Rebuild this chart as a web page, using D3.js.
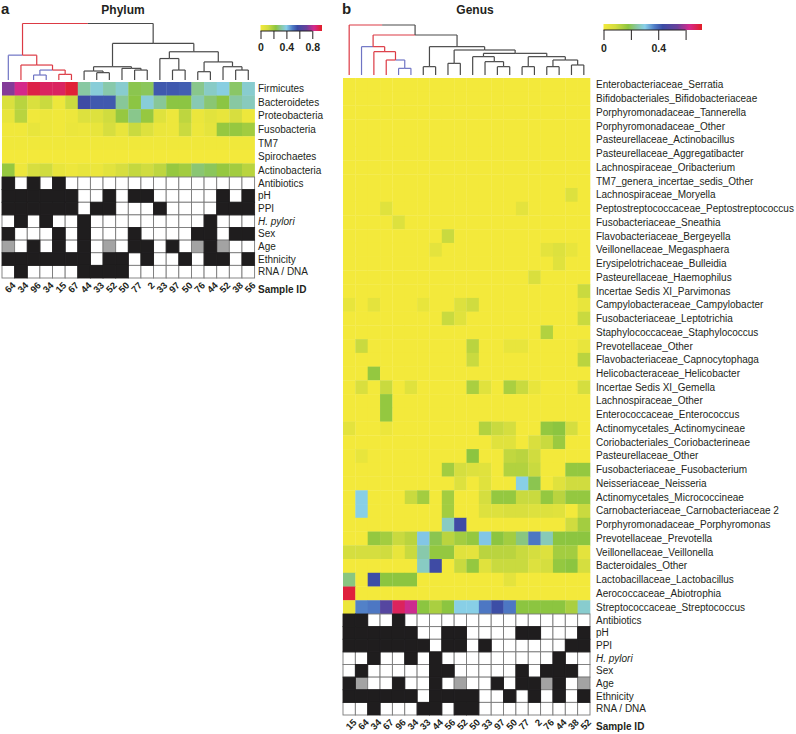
<!DOCTYPE html>
<html>
<head>
<meta charset="utf-8">
<script src="https://cdnjs.cloudflare.com/ajax/libs/d3/7.8.5/d3.min.js"></script>
<style>
  body { margin: 0; background: #fff; }
  text { font-family: "Liberation Sans", Arial, sans-serif; fill: #231f20; }
</style>
</head>
<body>
<svg id="chart" width="796" height="734"></svg>
<script>
// ---------- data ----------
var phylumSamples = ["64","34","96","34","15","67","44","33","52","50","77","2","33","97","50","76","44","52","38","56"];
var phyla = ["Firmicutes","Bacteroidetes","Proteobacteria","Fusobacteria","TM7","Spirochaetes","Actinobacteria"];
var phylumValues = [
  [0.74,0.83,0.91,0.88,0.88,0.93,0.32,0.38,0.33,0.37,0.25,0.26,0.55,0.55,0.54,0.30,0.36,0.39,0.27,0.37],
  [0.09,0.16,0.09,0.13,0.02,0.13,0.58,0.55,0.55,0.31,0.24,0.38,0.31,0.24,0.24,0.34,0.28,0.24,0.32,0.35],
  [0.04,0.16,0.01,0.02,0.01,0.02,0.08,0.08,0.12,0.22,0.30,0.22,0.07,0.02,0.15,0.03,0.06,0.04,0.10,0.02],
  [0.01,0.01,0.04,0.02,0.01,0.03,0.02,0.04,0.10,0.04,0.13,0.08,0.03,0.02,0.13,0.02,0.05,0.22,0.22,0.20],
  [0.01,0.01,0.01,0.01,0.01,0.01,0.01,0.01,0.01,0.01,0.01,0.01,0.01,0.01,0.01,0.01,0.01,0.01,0.01,0.01],
  [0,0,0,0,0,0,0,0,0,0,0,0,0,0,0,0,0,0,0,0],
  [0.22,0.02,0.10,0.12,0.04,0.02,0.04,0.03,0.06,0.10,0.14,0.12,0.15,0.22,0.20,0.28,0.26,0.22,0.20,0.16]
];

var genusSamples = ["15","64","34","67","96","34","33","44","56","52","50","33","97","50","77","2","76","44","38","52"];
var genera = [
  "Enterobacteriaceae_Serratia","Bifidobacteriales_Bifidobacteriaceae","Porphyromonadaceae_Tannerella",
  "Porphyromonadaceae_Other","Pasteurellaceae_Actinobacillus","Pasteurellaceae_Aggregatibacter",
  "Lachnospiraceae_Oribacterium","TM7_genera_incertae_sedis_Other","Lachnospiraceae_Moryella",
  "Peptostreptococcaceae_Peptostreptococcus","Fusobacteriaceae_Sneathia","Flavobacteriaceae_Bergeyella",
  "Veillonellaceae_Megasphaera","Erysipelotrichaceae_Bulleidia","Pasteurellaceae_Haemophilus",
  "Incertae Sedis XI_Parvimonas","Campylobacteraceae_Campylobacter","Fusobacteriaceae_Leptotrichia",
  "Staphylococcaceae_Staphylococcus","Prevotellaceae_Other","Flavobacteriaceae_Capnocytophaga",
  "Helicobacteraceae_Helicobacter","Incertae Sedis XI_Gemella","Lachnospiraceae_Other",
  "Enterococcaceae_Enterococcus","Actinomycetales_Actinomycineae","Coriobacteriales_Coriobacterineae",
  "Pasteurellaceae_Other","Fusobacteriaceae_Fusobacterium","Neisseriaceae_Neisseria",
  "Actinomycetales_Micrococcineae","Carnobacteriaceae_Carnobacteriaceae 2","Porphyromonadaceae_Porphyromonas",
  "Prevotellaceae_Prevotella","Veillonellaceae_Veillonella","Bacteroidales_Other",
  "Lactobacillaceae_Lactobacillus","Aerococcaceae_Abiotrophia","Streptococcaceae_Streptococcus"
];
var genusValues = [
  [0,0,0,0,0,0,0,0,0,0,0,0,0,0,0,0,0,0,0,0],
  [0,0,0,0,0,0,0,0,0,0,0,0,0,0,0,0,0,0,0,0],
  [0,0,0,0,0,0,0,0,0,0,0,0,0,0,0,0,0,0,0,0],
  [0,0,0,0,0,0,0,0,0,0,0,0,0,0,0,0,0,0,0,0],
  [0,0,0,0,0,0,0,0,0,0,0,0,0,0,0,0,0,0,0,0],
  [0,0,0,0,0,0,0,0,0,0,0,0,0,0,0,0,0,0,0,0],
  [0,0,0,0,0,0,0,0,0,0,0,0,0,0,0,0,0,0,0,0],
  [0,0,0,0,0,0,0,0,0,0,0,0,0,0,0,0,0,0,0,0],
  [0,0,0,0,0,0,0,0,0,0,0,0,0,0,0,0,0,0,0.06,0],
  [0,0,0,0.05,0,0,0,0,0,0,0,0,0,0,0.04,0,0,0,0,0],
  [0,0,0,0,0.06,0,0,0,0,0,0,0,0,0,0,0,0,0,0,0],
  [0,0,0,0,0,0,0,0,0.10,0,0,0,0,0,0,0,0,0,0,0],
  [0,0,0,0,0,0,0,0.04,0,0,0,0,0,0,0,0,0.04,0.06,0.03,0],
  [0,0,0,0,0,0,0,0,0,0,0,0,0,0,0,0,0,0.05,0,0],
  [0,0,0,0,0,0,0,0,0,0,0,0,0,0,0,0.07,0,0,0,0],
  [0,0,0,0,0,0,0,0,0,0,0,0,0,0,0,0,0,0,0,0.10],
  [0.03,0,0.04,0,0,0,0.03,0,0,0.06,0.09,0,0,0,0,0,0,0,0,0.03],
  [0,0,0,0,0,0,0,0,0.10,0.05,0,0,0,0,0,0,0,0,0,0.10],
  [0,0,0,0,0,0,0,0,0,0,0,0,0,0,0,0,0.13,0,0,0],
  [0,0.10,0,0,0,0,0,0,0,0,0.12,0,0,0.03,0.03,0,0,0,0,0.03],
  [0,0,0,0,0,0,0,0,0,0,0.10,0,0,0,0,0,0,0,0,0.12],
  [0,0,0.17,0,0,0,0,0,0,0,0,0,0,0,0,0,0,0,0,0],
  [0,0.07,0,0.10,0,0.05,0,0,0,0,0.14,0.05,0,0.14,0.10,0.03,0,0,0,0.08],
  [0,0,0,0.17,0,0,0,0,0,0,0,0,0,0,0,0,0,0,0,0],
  [0,0,0,0.17,0,0,0,0,0,0,0,0,0,0,0,0,0,0,0,0],
  [0.04,0,0,0.02,0,0,0,0,0,0,0,0.13,0.10,0.08,0,0,0.17,0.18,0.08,0],
  [0,0,0,0,0,0,0,0,0,0,0,0,0.05,0.05,0,0.07,0.10,0.16,0,0],
  [0,0.03,0,0,0,0,0,0,0,0,0.18,0,0,0.11,0.12,0.09,0,0,0,0],
  [0,0,0,0,0,0,0,0,0.15,0.08,0.06,0.05,0,0.13,0.13,0.10,0,0,0.17,0.17],
  [0,0,0,0,0,0,0,0,0,0.06,0,0.05,0,0,0.30,0.19,0,0.05,0.09,0.09],
  [0,0.30,0,0,0,0.10,0.15,0,0.15,0,0,0.08,0.17,0.17,0.10,0.10,0.17,0.12,0.17,0.17],
  [0,0.30,0,0,0,0,0,0,0.15,0,0,0.06,0.06,0.07,0.07,0.06,0.06,0.05,0,0.10],
  [0,0,0,0,0,0,0,0,0.27,0.44,0,0,0,0,0,0,0,0,0.09,0.15],
  [0,0,0.17,0.15,0.10,0.12,0.31,0.19,0.12,0.15,0.17,0.31,0.18,0.15,0.22,0.38,0.26,0.18,0.18,0.18],
  [0.08,0.08,0.08,0.09,0.03,0.10,0.25,0.17,0.17,0.05,0.04,0.12,0.12,0.12,0.10,0.08,0.06,0.15,0.15,0.04],
  [0,0,0,0,0,0,0.27,0.44,0,0.10,0.17,0.05,0.10,0.10,0.10,0.06,0.08,0.17,0.18,0.08],
  [0.22,0,0.43,0.18,0.18,0.18,0,0,0,0,0,0,0,0.04,0,0,0,0,0,0],
  [0.70,0,0,0,0,0,0,0,0,0,0,0,0,0,0,0,0,0,0,0],
  [0.02,0.37,0.38,0.49,0.67,0.62,0.18,0.14,0.18,0.30,0.30,0.38,0.43,0.38,0.18,0.18,0.18,0.18,0.14,0.28]
];

var metaLabels = ["Antibiotics","pH","PPI","H. pylori","Sex","Age","Ethnicity","RNA / DNA"];
// 0 = no, 1 = yes, 2 = unknown
var phylumMeta = [
  [1,0,1,0,1,0,0,0,0,0,0,0,0,0,0,0,0,0,0,0],
  [1,1,1,1,1,1,0,0,1,0,1,1,0,0,0,0,0,1,0,1],
  [1,1,1,1,1,1,0,1,1,0,0,0,1,0,0,0,0,1,1,1],
  [0,1,0,1,0,0,1,0,0,0,0,0,0,0,0,0,1,0,0,0],
  [1,0,0,0,1,0,1,0,0,0,1,0,0,0,0,1,1,0,1,1],
  [2,0,1,0,1,0,1,0,2,0,1,1,0,1,0,2,1,2,0,0],
  [1,1,1,1,1,1,1,0,1,1,0,1,0,0,1,0,1,1,0,1],
  [0,1,0,0,0,0,1,1,1,1,0,0,0,0,0,0,0,0,0,0]
];
var genusMeta = [
  [1,1,0,0,1,0,0,0,0,0,0,0,0,0,0,0,0,0,0,0],
  [1,1,1,1,1,1,0,0,1,1,0,0,0,0,1,1,0,0,0,1],
  [1,1,1,1,1,1,1,0,1,1,0,1,0,0,0,0,0,0,1,1],
  [0,0,1,0,0,1,0,1,0,0,0,0,0,0,0,0,0,1,0,0],
  [0,1,0,0,0,0,0,1,1,0,0,0,0,0,1,0,1,1,1,0],
  [1,2,0,0,1,0,0,1,0,2,0,0,1,0,1,1,2,1,0,2],
  [1,1,1,1,1,1,0,1,1,1,1,0,0,1,0,1,0,1,0,1],
  [0,0,1,0,0,0,1,1,0,1,1,0,0,0,0,0,0,0,0,0]
];

// dendrograms: [height, left, right]; a number is a column index
var phylumTree = [1.0,
  [0.44, 0, [0.265, 1, [0.176, [0.088, 2, 3], [0.1, 4, 5]]]],
  [0.647,
    [0.235, [0.159, 6, [0.13, 7, 8]], [0.206, 9, [0.176, 10, 11]]],
    [0.5, [0.38, 12, [0.176, 13, 14]], [0.32, [0.147, 15, 16], [0.235, 17, [0.176, 18, 19]]]]]
];
var phylumCluster = [0,1,2,3,4,5], phylumBlue = [0,2,3];

var genusTree = [1.0,
  0,
  [0.8,
    [0.567, 1, [0.467, 2, [0.3, 3, [0.133, 4, 5]]]],
    [0.567, [0.167, 6, 7],
      [0.5, [0.233, 8, 9],
        [0.433, [0.367, 10, [0.267, 11, [0.167, 12, 13]]],
                [0.367, [0.167, 14, 15], [0.3, [0.167, 16, 17], [0.2, 18, 19]]]]]]]
];
var genusCluster = [0,1,2,3,4,5], genusBlue = [1,4,5];

// ---------- colours ----------
var stops = [0, 0.12, 0.25, 0.33, 0.42, 0.52, 0.6, 0.75, 0.87, 1];
var stopColors = ["#f3e93b","#d3dd3f","#8cc540","#88c79c","#88cfe9","#4f7cc6","#3b4ca5","#6b419b","#d4298d","#e21e26"];
var metaFill = ["#ffffff", "#1f1d1e", "#a3a3a3"];

var svg = d3.select("#chart");

function drawPanel(p) {
  var g = svg.append("g");
  var color = d3.scaleLinear().domain(stops.map(function(t) { return t * p.max; }))
    .range(stopColors).clamp(true);

  var x = d3.scaleBand().domain(d3.range(p.samples.length)).range([p.x0, p.x1]);
  var yHeat = d3.scaleBand().domain(p.rows).range([p.heatTop, p.heatBottom]);
  var yMeta = d3.scaleBand().domain(metaLabels).range([p.heatBottom, p.metaBottom]);
  var bw = x.bandwidth();

  // heatmap
  p.values.forEach(function(row, r) {
    g.selectAll(null).data(row).join("rect")
      .attr("x", function(d, i) { return x(i); })
      .attr("y", yHeat(p.rows[r]))
      .attr("width", bw + 0.3)
      .attr("height", yHeat.bandwidth() + 0.3)
      .attr("fill", function(d) { return color(d); });
  });

  // metadata grid: open cells first, filled cells drawn over them
  var cells = [];
  p.meta.forEach(function(row, r) {
    row.forEach(function(d, i) { cells.push({ r: r, i: i, v: d }); });
  });
  cells.sort(function(a, b) { return (a.v === 1) - (b.v === 1); });
  g.selectAll(null).data(cells).join("rect")
    .attr("x", function(d) { return x(d.i); })
    .attr("y", function(d) { return yMeta(metaLabels[d.r]); })
    .attr("width", bw)
    .attr("height", yMeta.bandwidth())
    .attr("fill", function(d) { return metaFill[d.v]; })
    .attr("stroke", function(d) { return d.v === 1 ? metaFill[1] : "#7a7a7a"; })
    .attr("stroke-width", 0.9);

  // row labels
  g.selectAll(null).data(p.rows).join("text")
    .attr("x", p.labelX)
    .attr("y", function(d) { return yHeat(d) + yHeat.bandwidth() / 2; })
    .attr("dy", "0.35em")
    .style("font-size", "10px")
    .text(function(d) { return d; });
  g.selectAll(null).data(metaLabels).join("text")
    .attr("x", p.labelX)
    .attr("y", function(d) { return yMeta(d) + yMeta.bandwidth() / 2; })
    .attr("dy", "0.35em")
    .style("font-size", "10px")
    .style("font-style", function(d) { return d === "H. pylori" ? "italic" : null; })
    .text(function(d) { return d; });
  g.append("text")
    .attr("x", p.labelX).attr("y", p.metaBottom + 11)
    .attr("dy", "0.35em")
    .style("font-size", "10px").style("font-weight", "bold")
    .text("Sample ID");

  // sample ids, slanted
  g.selectAll(null).data(p.samples).join("text")
    .attr("transform", function(d, i) {
      return "translate(" + (x(i) + bw / 2 + 3) + "," + (p.metaBottom + 3) + ") rotate(-45)";
    })
    .attr("text-anchor", "end")
    .attr("dy", "0.75em")
    .style("font-size", "9.5px")
    .style("font-weight", "bold")
    .text(function(d) { return d; });

  // dendrogram
  var h = d3.scaleLinear().domain([0, 1]).range([p.treeBottom, p.treeTop]);
  function leaves(n) { return typeof n === "number" ? [n] : leaves(n[1]).concat(leaves(n[2])); }
  function nodeColor(n) {
    var l = leaves(n);
    if (l.every(function(i) { return p.blue.indexOf(i) >= 0; })) return "#6f74c4";
    if (l.every(function(i) { return p.cluster.indexOf(i) >= 0; })) return "#dc3a44";
    return "#4a4a4a";
  }
  var links = g.append("g").attr("fill", "none").attr("stroke-width", 1.2);
  function walk(n) {
    if (typeof n === "number") return { x: x(n) + bw / 2, y: h(0), c: nodeColor(n) };
    var a = walk(n[1]), b = walk(n[2]);
    var y = h(n[0]), mx = (a.x + b.x) / 2;
    [a, b].forEach(function(k) {
      links.append("path").attr("d", "M" + k.x + "," + k.y + "V" + y).attr("stroke", k.c);
    });
    links.append("path").attr("d", "M" + a.x + "," + y + "H" + mx).attr("stroke", a.c);
    links.append("path").attr("d", "M" + mx + "," + y + "H" + b.x).attr("stroke", b.c);
    return { x: mx, y: y, c: nodeColor(n) };
  }
  walk(p.tree);

  // colour key
  var id = "grad" + p.letter;
  var grad = svg.append("defs").append("linearGradient").attr("id", id);
  stops.forEach(function(t, i) {
    grad.append("stop").attr("offset", t * 100 + "%").attr("stop-color", stopColors[i]);
  });
  var k = d3.scaleLinear().domain([0, p.max]).range([p.keyX0, p.keyX1]);
  g.append("rect").attr("x", p.keyX0).attr("y", p.keyY)
    .attr("width", p.keyX1 - p.keyX0).attr("height", 6).attr("fill", "url(#" + id + ")");
  var axis = g.append("g").attr("transform", "translate(0," + (p.keyY + 6) + ")")
    .call(d3.axisBottom(k).tickValues(p.keyTicks).tickSize(p.keyTick).tickSizeOuter(0)
      .tickFormat(function(d) { return p.keyLabels.indexOf(d) >= 0 ? String(d) : ""; }));
  axis.select(".domain").attr("stroke", "#231f20").attr("d", "M" + p.keyX0 + ",0H" + k(p.keyTicks[p.keyTicks.length - 1]));
  axis.selectAll(".tick line").attr("stroke", "#231f20");
  axis.selectAll(".tick text").attr("dy", "0.9em")
    .style("font-size", "10.5px").style("font-weight", "bold").style("font-family", "'Liberation Sans', Arial, sans-serif");

  // titles
  g.append("text").attr("x", p.letterX).attr("y", 14)
    .style("font-size", "15px").style("font-weight", "bold").text(p.letter);
  g.append("text").attr("x", p.titleX).attr("y", 14).attr("text-anchor", "middle")
    .style("font-size", "12px").style("font-weight", "bold").text(p.title);
}

drawPanel({
  letter: "a", letterX: 1, title: "Phylum", titleX: 123,
  samples: phylumSamples, rows: phyla, values: phylumValues, meta: phylumMeta,
  tree: phylumTree, cluster: phylumCluster, blue: phylumBlue,
  max: 0.95, x0: 2, x1: 254.6, heatTop: 82, heatBottom: 177, metaBottom: 278,
  treeTop: 23.5, treeBottom: 80, labelX: 258,
  keyX0: 260.5, keyX1: 322, keyY: 25, keyTick: 8,
  keyTicks: [0, 0.2, 0.4, 0.6, 0.8], keyLabels: [0, 0.4, 0.8]
});

drawPanel({
  letter: "b", letterX: 342, title: "Genus", titleX: 475,
  samples: genusSamples, rows: genera, values: genusValues, meta: genusMeta,
  tree: genusTree, cluster: genusCluster, blue: genusBlue,
  max: 0.72, x0: 343, x1: 590, heatTop: 78, heatBottom: 614, metaBottom: 715,
  treeTop: 25, treeBottom: 75, labelX: 596,
  keyX0: 603.5, keyX1: 702, keyY: 24, keyTick: 10,
  keyTicks: [0, 0.2, 0.4, 0.6], keyLabels: [0, 0.4]
});
</script>
</body>
</html>
